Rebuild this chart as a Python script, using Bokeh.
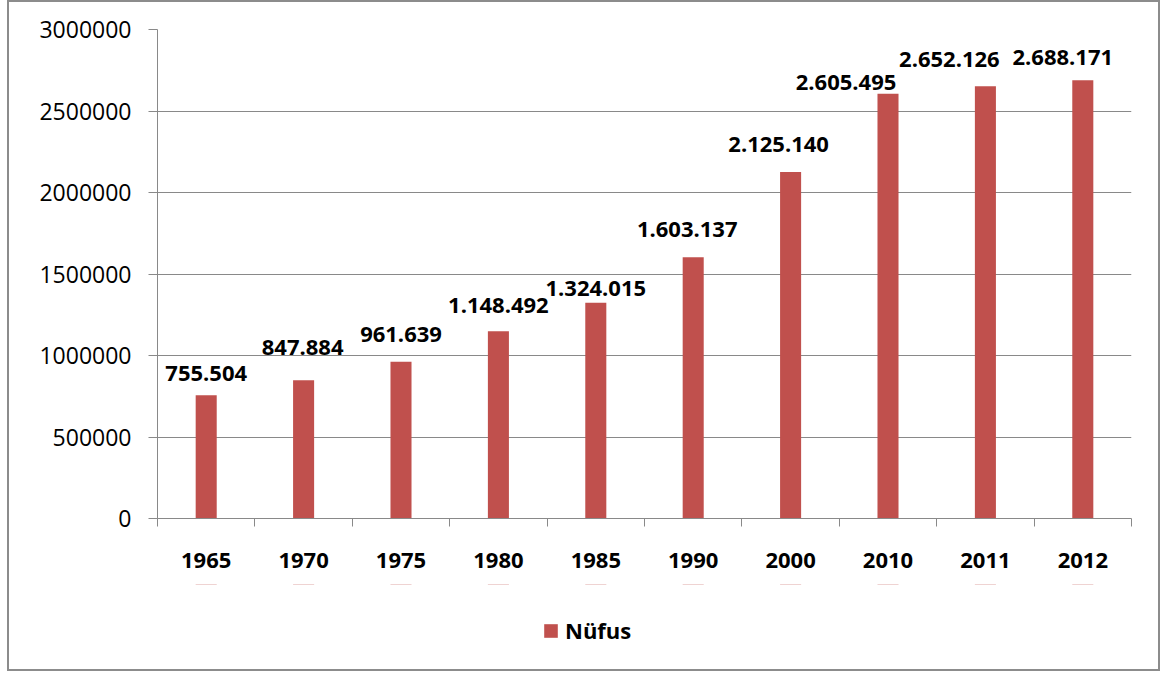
from bokeh.plotting import figure
from bokeh.layouts import column
from bokeh.models import (ColumnDataSource, Range1d, FixedTicker, LinearAxis,
                          Legend, LegendItem, BasicTickFormatter)
from bokeh.core.properties import value
from bokeh.embed import file_html
from bokeh.resources import INLINE

# ---- data ----
years = ["1965", "1970", "1975", "1980", "1985", "1990", "2000", "2010", "2011", "2012"]
population = [755504, 847884, 961639, 1148492, 1324015, 1603137, 2125140, 2605495, 2652126, 2688171]
value_labels = ["755.504", "847.884", "961.639", "1.148.492", "1.324.015", "1.603.137",
                "2.125.140", "2.605.495", "2.652.126", "2.688.171"]
y_ticks = [0, 500000, 1000000, 1500000, 2000000, 2500000, 3000000]
series_name = "Nüfus"

# ---- label placement (pixels, layout only) ----
label_dx = [0, -1, 0, 0, 0, -6, -12, -42, -36, -20]
label_dy = [22, 33, 27, 26, 14, 28, 28, 11, 27, 23]

FONT = "Open Sans"
BAR = "#C0504D"
GRAY = "#898989"

n = len(years)
centers = [i + 0.5 for i in range(n)]  # category slot centres
src = ColumnDataSource(dict(x=centers, top=population, lab=value_labels,
                            dx=label_dx, dy=[-d for d in label_dy]))

p = figure(width=1149, height=582, x_range=Range1d(0, n), y_range=Range1d(0, 3000000),
           output_backend="svg", toolbar_location=None, x_axis_type=None,
           min_border_left=148, min_border_right=27, min_border_top=27, min_border_bottom=66)
p.outline_line_color = None
p.background_fill_color = "white"
p.border_fill_color = "white"

# y axis
ya = p.yaxis[0]
ya.ticker = FixedTicker(ticks=y_ticks)
ya.formatter = BasicTickFormatter(use_scientific=False)
ya.axis_line_color = GRAY
ya.major_tick_line_color = GRAY
ya.major_tick_out = 9
ya.major_tick_in = 0
ya.minor_tick_line_color = None
ya.major_label_text_font = FONT
ya.major_label_text_font_size = "23px"
ya.major_label_text_color = "black"
ya.major_label_standoff = 17
p.ygrid.ticker = FixedTicker(ticks=y_ticks)
p.ygrid.grid_line_color = GRAY
p.ygrid.grid_line_width = 1
p.xgrid.grid_line_color = None

# x tick axis at category boundaries
tick_axis = LinearAxis(ticker=FixedTicker(ticks=list(range(n + 1))),
                       major_label_overrides={i: "" for i in range(n + 1)},
                       major_label_text_font_size="1px", major_label_standoff=0,
                       axis_line_color=GRAY, major_tick_line_color=GRAY,
                       major_tick_out=8, major_tick_in=0, minor_tick_line_color=None)
p.add_layout(tick_axis, "below")

# category labels at slot centres
cat_axis = LinearAxis(ticker=FixedTicker(ticks=centers),
                      major_label_overrides={c: y for c, y in zip(centers, years)},
                      axis_line_color=None, major_tick_line_color=None, minor_tick_line_color=None,
                      major_tick_out=0, major_tick_in=0,
                      major_label_text_font=FONT, major_label_text_font_size="22px",
                      major_label_text_color="black",
                      major_label_text_font_style="bold", major_label_standoff=26)
p.add_layout(cat_axis, "below")

bars = p.vbar(x="x", top="top", width=0.216, source=src, fill_color=BAR, line_color=None)

p.text(x="x", y="top", text="lab", source=src, x_offset="dx", y_offset="dy",
       text_font=value(FONT), text_font_size="22px", text_font_style="bold",
       text_align="center", text_baseline="middle", text_color="black")

# ---- legend strip below the chart ----
p2 = figure(width=1149, height=85, x_range=Range1d(0, n), y_range=Range1d(-2, -1),
            output_backend="svg", toolbar_location=None, x_axis_type=None, y_axis_type=None,
            min_border=0, min_border_left=148, min_border_right=27, min_border_top=0, min_border_bottom=0)
p2.outline_line_color = None
p2.xgrid.grid_line_color = None
p2.ygrid.grid_line_color = None
p2.background_fill_color = "white"
p2.border_fill_color = "white"
# same series, out of view here; only its legend swatch is shown
swatch = p2.vbar(x="x", top="top", width=0.216, source=src, fill_color=BAR, line_color=None)

legend = Legend(items=[LegendItem(label=series_name, renderers=[swatch])],
                orientation="horizontal", location=(385, 24),
                border_line_color=None, background_fill_alpha=0,
                label_text_font=FONT, label_text_font_size="22px", label_text_font_style="bold",
                label_text_color="black",
                glyph_width=17, glyph_height=17, label_standoff=6, margin=0, padding=0)
p2.add_layout(legend)

layout = column(p, p2, spacing=0,
                styles={"border": "2px solid #8c8c8c", "margin-left": "7px"})

open("out.html", "w").write(file_html(layout, INLINE))
